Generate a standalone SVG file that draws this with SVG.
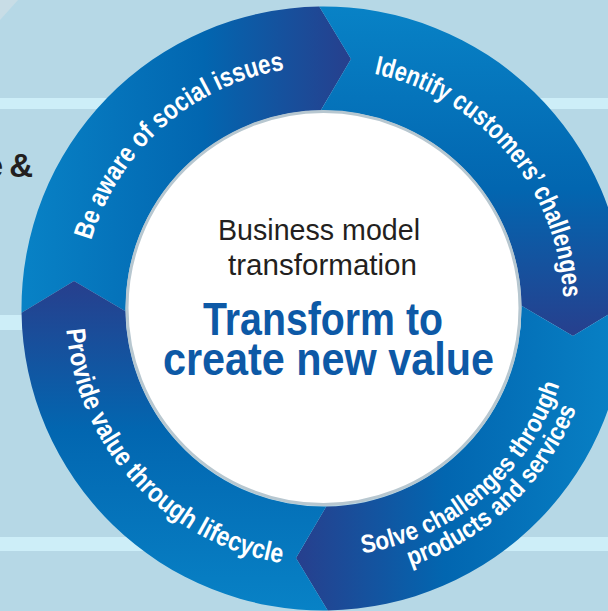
<svg xmlns="http://www.w3.org/2000/svg" width="608" height="611" viewBox="0 0 608 611">
  <style>
    .ring-label { font-family: "Liberation Sans", Arial, sans-serif; font-weight: bold; fill: #ffffff; }
    .hub-sub { font-family: "Liberation Sans", Arial, sans-serif; font-size: 29px; fill: #231f20; }
    .hub-main { font-family: "Liberation Sans", Arial, sans-serif; font-size: 46px; font-weight: bold; fill: #0d59a6; }
  </style>
  <defs>
    <!-- each quarter runs light at its start to dark at its arrow tip -->
    <linearGradient id="gAware" gradientUnits="userSpaceOnUse" x1="22" y1="0" x2="352" y2="0">
      <stop offset="0" stop-color="#0882c6"/>
      <stop offset="0.55" stop-color="#0266b0"/>
      <stop offset="1" stop-color="#273f8d"/>
    </linearGradient>
    <linearGradient id="gIdentify" gradientUnits="userSpaceOnUse" x1="0" y1="7" x2="0" y2="337">
      <stop offset="0" stop-color="#0882c6"/>
      <stop offset="0.55" stop-color="#0266b0"/>
      <stop offset="1" stop-color="#273f8d"/>
    </linearGradient>
    <linearGradient id="gSolve" gradientUnits="userSpaceOnUse" x1="626" y1="0" x2="296" y2="0">
      <stop offset="0" stop-color="#0882c6"/>
      <stop offset="0.55" stop-color="#0266b0"/>
      <stop offset="1" stop-color="#273f8d"/>
    </linearGradient>
    <linearGradient id="gProvide" gradientUnits="userSpaceOnUse" x1="0" y1="611" x2="0" y2="281">
      <stop offset="0" stop-color="#0882c6"/>
      <stop offset="0.55" stop-color="#0266b0"/>
      <stop offset="1" stop-color="#273f8d"/>
    </linearGradient>

    <!-- label baselines, centred on (323.5, 308.5) -->
    <path id="pAware" d="M 86.36 356.75 A 242 242 0 0 1 400.29 79.01"/>
    <path id="pIdentify" d="M 281.00 72.29 A 240 240 0 0 1 549.31 389.80"/>
    <path id="pSolve1" d="M 241.12 542.42 A 248 248 0 0 0 567.27 262.88"/>
    <path id="pSolve2" d="M 246.25 569.30 A 272 272 0 0 0 587.98 245.00"/>
    <path id="pProvide" d="M 77.24 231.55 A 258 258 0 0 0 380.00 560.24"/>
  </defs>

  <!-- backdrop -->
  <g id="backdrop">
    <rect x="0" y="0" width="608" height="611" fill="#b6d8e6"/>
    <polygon points="0,0 18,0 0,20" fill="#c8dde6"/>
    <rect x="0" y="98" width="608" height="11" fill="#cdeef8"/>
    <rect x="0" y="315" width="608" height="15" fill="#cdeef8"/>
    <rect x="0" y="537" width="608" height="14" fill="#cdeef8"/>
    <text x="33" y="177" text-anchor="end" word-spacing="-3" font-family="Liberation Sans, Arial, sans-serif" font-weight="bold" font-size="33" fill="#231f20">e &amp;</text>
  </g>

  <!-- cycle quarters -->
  <g id="seg-aware">
    <path d="M 21.53 312.72 A 302 302 0 0 1 319.28 6.53 L 351.04 59.02 L 320.74 110.52 A 198 198 0 0 0 125.52 311.26 L 74.02 280.96 Z" fill="url(#gAware)"/>
    <text class="ring-label" font-size="27"><textPath href="#pAware" startOffset="50%" text-anchor="middle" textLength="272" lengthAdjust="spacingAndGlyphs">Be aware of social issues</textPath></text>
  </g>

  <g id="seg-identify">
    <path d="M 319.28 6.53 A 302 302 0 0 1 625.47 304.28 L 572.98 336.04 L 521.48 305.74 A 198 198 0 0 0 320.74 110.52 L 351.04 59.02 Z" fill="url(#gIdentify)"/>
    <text class="ring-label" font-size="27"><textPath href="#pIdentify" startOffset="50%" text-anchor="middle" textLength="315" lengthAdjust="spacingAndGlyphs">Identify customers’ challenges</textPath></text>
  </g>

  <g id="seg-solve">
    <path d="M 625.47 304.28 A 302 302 0 0 1 327.72 610.47 L 295.96 557.98 L 326.26 506.48 A 198 198 0 0 0 521.48 305.74 L 572.98 336.04 Z" fill="url(#gSolve)"/>
    <text class="ring-label" font-size="25.5"><textPath href="#pSolve1" startOffset="50%" text-anchor="middle" textLength="273" lengthAdjust="spacingAndGlyphs">Solve challenges through</textPath></text>
    <text class="ring-label" font-size="25.5"><textPath href="#pSolve2" startOffset="50%" text-anchor="middle" textLength="236" lengthAdjust="spacingAndGlyphs">products and services</textPath></text>
  </g>

  <g id="seg-provide">
    <path d="M 327.72 610.47 A 302 302 0 0 1 21.53 312.72 L 74.02 280.96 L 125.52 311.26 A 198 198 0 0 0 326.26 506.48 L 295.96 557.98 Z" fill="url(#gProvide)"/>
    <text class="ring-label" font-size="27"><textPath href="#pProvide" startOffset="50%" text-anchor="middle" textLength="342" lengthAdjust="spacingAndGlyphs">Provide value through lifecycle</textPath></text>
  </g>

  <!-- central hub -->
  <g id="hub">
    <circle cx="323.5" cy="308" r="196.5" fill="#ffffff" stroke="#b7c7d0" stroke-width="3"/>
    <text class="hub-sub" x="319" y="240" text-anchor="middle" textLength="202" lengthAdjust="spacingAndGlyphs">Business model</text>
    <text class="hub-sub" x="322.5" y="275" text-anchor="middle" textLength="189" lengthAdjust="spacingAndGlyphs">transformation</text>
    <text class="hub-main" x="323" y="335" text-anchor="middle" textLength="240" lengthAdjust="spacingAndGlyphs">Transform to</text>
    <text class="hub-main" x="328.5" y="375" text-anchor="middle" textLength="331" lengthAdjust="spacingAndGlyphs">create new value</text>
  </g>
</svg>
